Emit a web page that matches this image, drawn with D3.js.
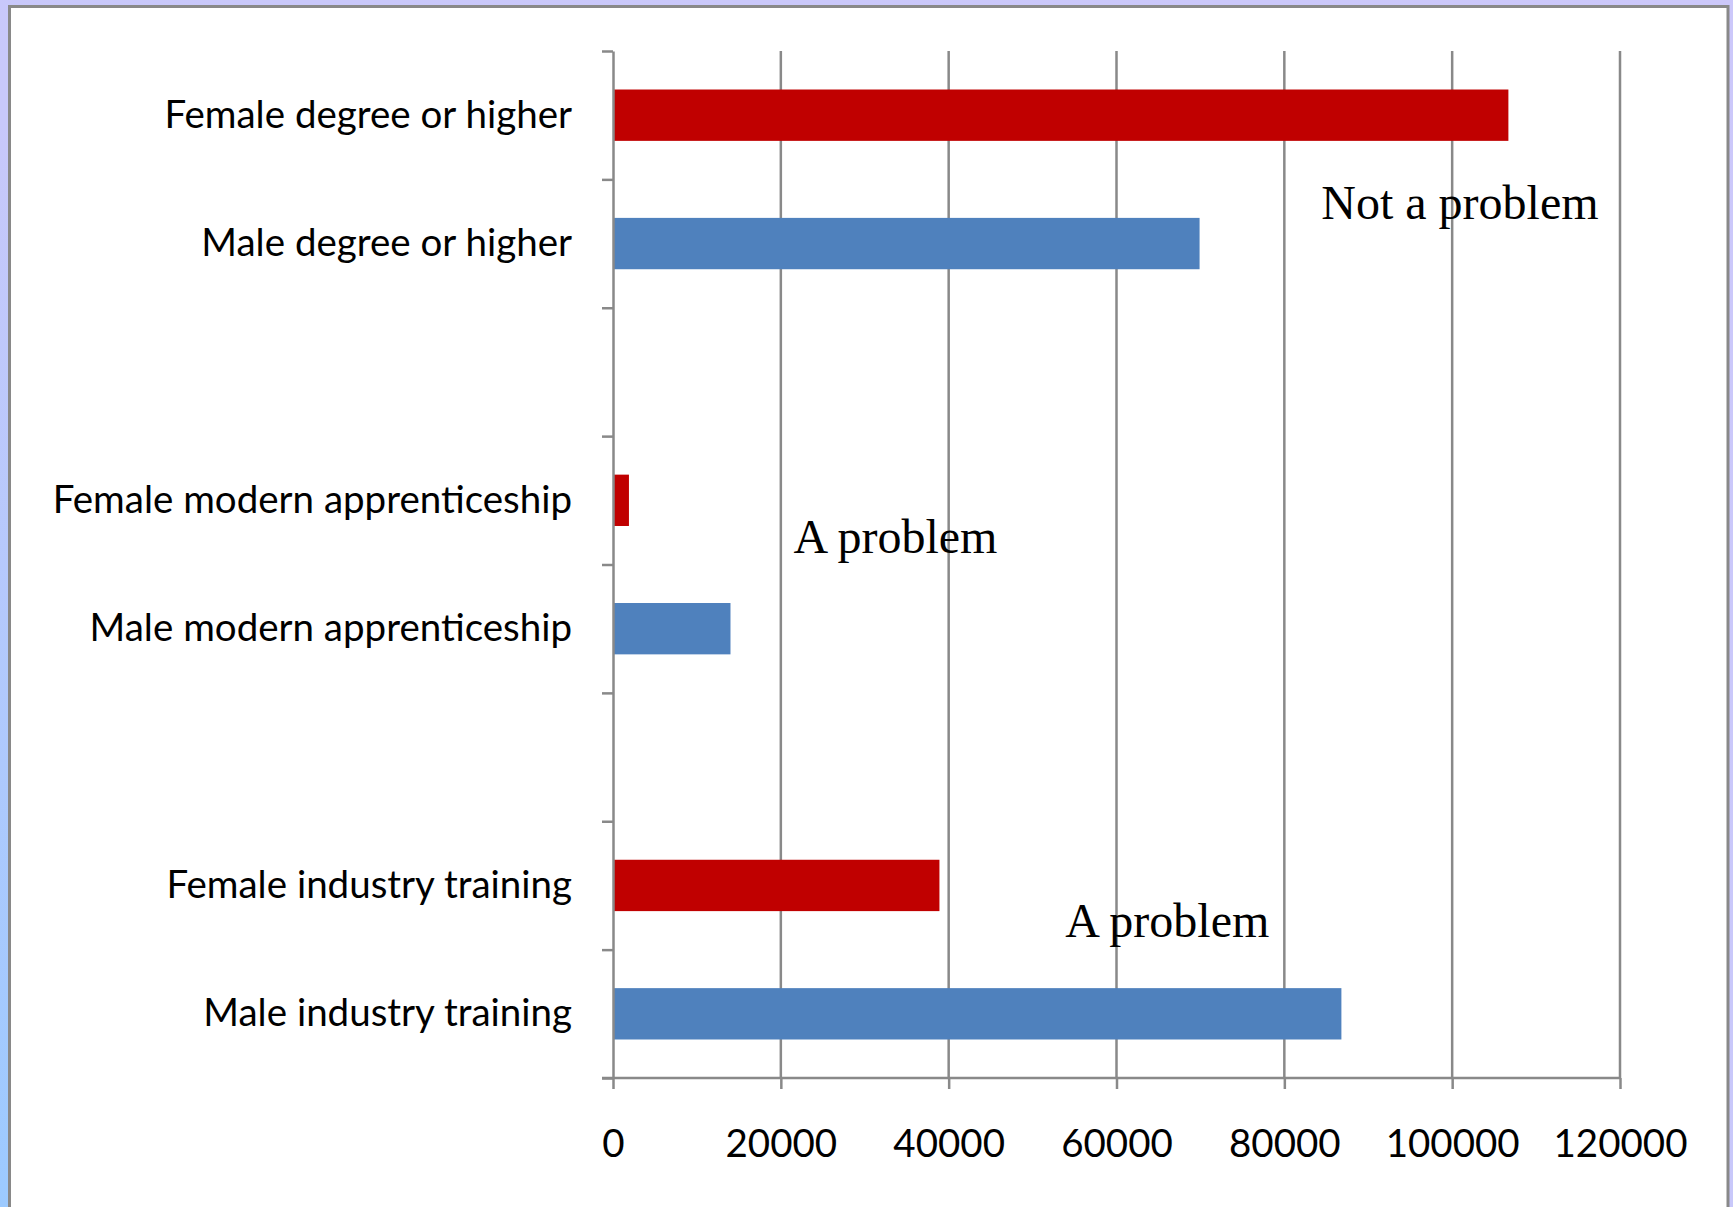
<!DOCTYPE html>
<html lang="en">
<head>
    <meta charset="UTF-8">
    <title>Qualifications by gender</title>
    <script src="https://d3js.org/d3.v7.min.js"></script>
    <style>
        html, body {
            margin: 0;
            padding: 0;
            overflow: hidden;
        }

        body {
            width: 1733px;
            height: 1207px;
            background: linear-gradient(to bottom left, #ccc8fa 0%, #c8c8fa 55%, #9ccaff 100%);
        }

        .axis path,
        .axis line {
            fill: none;
            stroke: #898989;
            stroke-width: 2.5px;
        }

        .axis text {
            font-family: Lato, "Open Sans", sans-serif;
            font-size: 38.5px;
            fill: #000;
        }

        .grid line {
            stroke: #898989;
            stroke-width: 2.5px;
        }

        .note {
            font-family: "Liberation Serif", "Times New Roman", serif;
            font-size: 48px;
            fill: #000;
        }
    </style>
</head>
<body>
    <div id="chart"></div>

    <script>
        // categories top to bottom, blanks are the gaps between groups
        const categories = [
            "Female degree or higher",
            "Male degree or higher",
            "",
            "Female modern apprenticeship",
            "Male modern apprenticeship",
            " ",
            "Female industry training",
            "Male industry training"
        ];
        const values = [106700, 69900, null, 1900, 14000, null, 38900, 86800];
        const isFemale = [true, false, null, true, false, null, true, false];
        const xTicks = [0, 20000, 40000, 60000, 80000, 100000, 120000];

        // notes: text, x in data units, y in band units from the top
        const noteText = ["Not a problem", "A problem", "A problem"];
        const noteX = [84400, 21500, 53900];
        const noteY = [1.31, 3.91, 6.90];

        const W = 1733, H = 1207;
        const margin = { top: 51, right: 113, bottom: 129, left: 613 };
        const width = W - margin.left - margin.right;
        const height = H - margin.top - margin.bottom;

        const svg = d3.select("#chart").append("svg")
            .attr("width", W)
            .attr("height", H);

        // white panel with grey frame
        svg.append("rect")
            .attr("x", 9.5)
            .attr("y", 6.5)
            .attr("width", 1718.5)
            .attr("height", H + 20)
            .attr("fill", "#fff")
            .attr("stroke", "#898989")
            .attr("stroke-width", 3);

        const g = svg.append("g")
            .attr("transform", "translate(" + margin.left + "," + margin.top + ")");

        const x = d3.scaleLinear().domain([0, 120000]).range([0, width]);
        const y = d3.scaleBand().domain(categories).range([0, height]).padding(0);
        const yIdx = d3.scaleLinear().domain([0, categories.length]).range([0, height]);

        // vertical gridlines
        g.append("g")
            .attr("class", "grid")
            .selectAll("line")
            .data(xTicks.filter(d => d > 0))
            .enter().append("line")
            .attr("x1", d => x(d))
            .attr("x2", d => x(d))
            .attr("y1", 0)
            .attr("y2", height);

        // bars
        const rows = categories.map((c, i) => ({ name: c, value: values[i], female: isFemale[i] }))
            .filter(d => d.value != null);
        const barH = y.bandwidth() * 0.4;

        g.selectAll(".bar")
            .data(rows)
            .enter().append("rect")
            .attr("class", "bar")
            .attr("x", x(0))
            .attr("y", d => y(d.name) + (y.bandwidth() - barH) / 2)
            .attr("width", d => x(d.value) - x(0))
            .attr("height", barH)
            .attr("fill", d => d.female ? "#c00000" : "#4f81bd");

        // x axis
        g.append("g")
            .attr("class", "x axis")
            .attr("transform", "translate(0," + height + ")")
            .call(d3.axisBottom(x).tickValues(xTicks).tickFormat(d3.format("d"))
                .tickSize(11).tickPadding(41).tickSizeOuter(0))
            .call(a => a.select(".domain").attr("d", "M" + (-11) + ",0H" + x(120000)));

        // y axis: tick marks on band edges
        g.append("g")
            .attr("class", "y axis")
            .call(d3.axisLeft(yIdx).ticks(categories.length).tickSize(11).tickFormat("").tickSizeOuter(0));

        // y axis labels at band centres
        g.append("g")
            .attr("class", "y axis labels")
            .call(d3.axisLeft(y).tickSize(0).tickPadding(41))
            .call(a => a.select(".domain").remove());

        // notes
        g.selectAll(".note")
            .data(noteText)
            .enter().append("text")
            .attr("class", "note")
            .attr("x", (d, i) => x(noteX[i]))
            .attr("y", (d, i) => yIdx(noteY[i]))
            .text(d => d);
    </script>
</body>
</html>
